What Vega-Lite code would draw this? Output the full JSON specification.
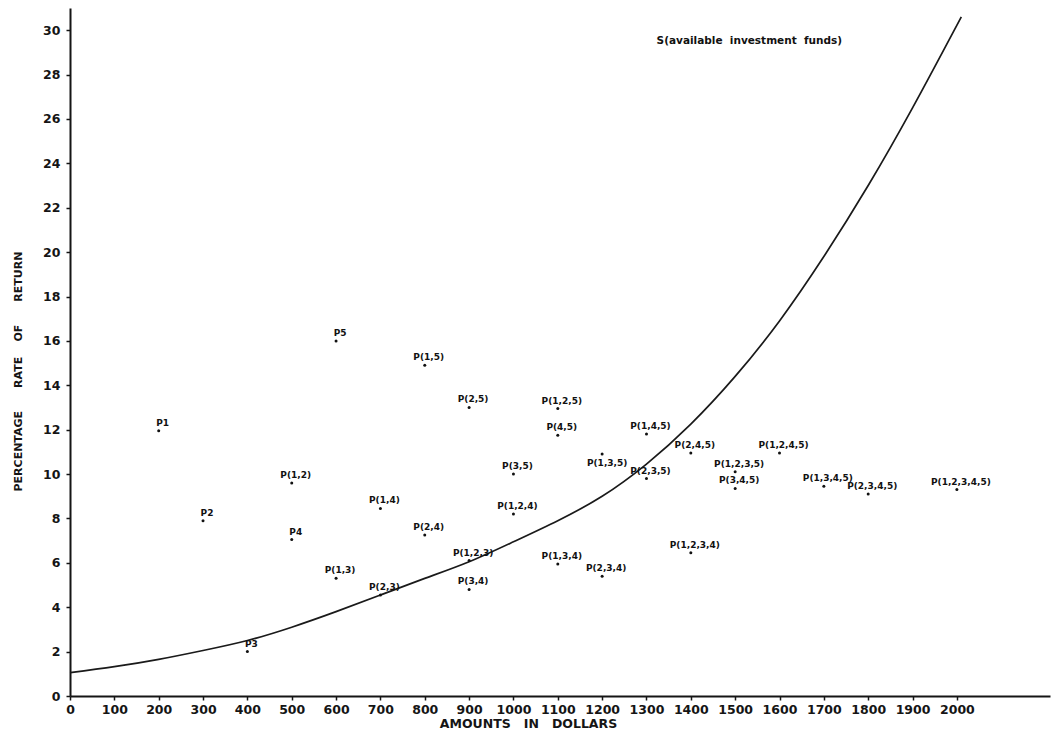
{
  "$schema": "https://vega.github.io/schema/vega-lite/v6.json",
  "width": 980,
  "height": 688,
  "autosize": "none",
  "padding": {"left": 70, "top": 8, "right": 10, "bottom": 36},
  "background": "white",
  "config": {
    "view": {"stroke": null},
    "font": "DejaVu Sans",
    "axis": {
      "labelFont": "DejaVu Sans",
      "labelFontWeight": "bold",
      "labelFontSize": 12.5,
      "labelColor": "#151515",
      "titleFont": "DejaVu Sans",
      "titleFontWeight": "bold",
      "titleColor": "#151515",
      "domainColor": "#151515",
      "domainWidth": 2,
      "tickColor": "#151515",
      "tickWidth": 1.5,
      "tickSize": 4,
      "grid": false,
      "labelFlush": false,
      "labelOverlap": false
    }
  },
  "datasets": {
    "curve": [
      {"amount": 0, "rate": 1.05},
      {"amount": 100, "rate": 1.32},
      {"amount": 200, "rate": 1.65},
      {"amount": 300, "rate": 2.05},
      {"amount": 400, "rate": 2.5},
      {"amount": 500, "rate": 3.1},
      {"amount": 600, "rate": 3.8},
      {"amount": 700, "rate": 4.55},
      {"amount": 800, "rate": 5.3},
      {"amount": 900, "rate": 6.05},
      {"amount": 1000, "rate": 6.95},
      {"amount": 1100, "rate": 7.9},
      {"amount": 1200, "rate": 9.0},
      {"amount": 1300, "rate": 10.45},
      {"amount": 1400, "rate": 12.25},
      {"amount": 1500, "rate": 14.4},
      {"amount": 1600, "rate": 16.9},
      {"amount": 1700, "rate": 19.8},
      {"amount": 1800, "rate": 23.0},
      {"amount": 1900, "rate": 26.5},
      {"amount": 2010, "rate": 30.6}
    ],
    "projects": [
      {"name": "P1", "amount": 200, "rate": 11.95},
      {"name": "P2", "amount": 300, "rate": 7.9},
      {"name": "P3", "amount": 400, "rate": 2.0},
      {"name": "P4", "amount": 500, "rate": 7.05},
      {"name": "P5", "amount": 600, "rate": 16.0},
      {"name": "P(1,2)", "amount": 500, "rate": 9.6},
      {"name": "P(1,3)", "amount": 600, "rate": 5.3},
      {"name": "P(1,4)", "amount": 700, "rate": 8.45},
      {"name": "P(1,5)", "amount": 800, "rate": 14.9},
      {"name": "P(2,3)", "amount": 700, "rate": 4.55},
      {"name": "P(2,4)", "amount": 800, "rate": 7.25},
      {"name": "P(2,5)", "amount": 900, "rate": 13.0},
      {"name": "P(3,4)", "amount": 900, "rate": 4.8},
      {"name": "P(3,5)", "amount": 1000, "rate": 10.0},
      {"name": "P(4,5)", "amount": 1100, "rate": 11.75},
      {"name": "P(1,2,3)", "amount": 900, "rate": 6.1},
      {"name": "P(1,2,4)", "amount": 1000, "rate": 8.2},
      {"name": "P(1,2,5)", "amount": 1100, "rate": 12.95},
      {"name": "P(1,3,4)", "amount": 1100, "rate": 5.95},
      {"name": "P(1,3,5)", "amount": 1200, "rate": 10.9},
      {"name": "P(1,4,5)", "amount": 1300, "rate": 11.8},
      {"name": "P(2,3,4)", "amount": 1200, "rate": 5.4},
      {"name": "P(2,3,5)", "amount": 1300, "rate": 9.8},
      {"name": "P(2,4,5)", "amount": 1400, "rate": 10.95},
      {"name": "P(3,4,5)", "amount": 1500, "rate": 9.35},
      {"name": "P(1,2,3,4)", "amount": 1400, "rate": 6.45},
      {"name": "P(1,2,3,5)", "amount": 1500, "rate": 10.1},
      {"name": "P(1,2,4,5)", "amount": 1600, "rate": 10.95},
      {"name": "P(1,3,4,5)", "amount": 1700, "rate": 9.45},
      {"name": "P(2,3,4,5)", "amount": 1800, "rate": 9.1},
      {"name": "P(1,2,3,4,5)", "amount": 2000, "rate": 9.3}
    ],
    "notes": [
      {"amount": 1532, "rate": 29.5, "text": "S(available\u00a0\u00a0investment\u00a0\u00a0funds)"}
    ]
  },
  "encoding": {
    "x": {
      "field": "amount",
      "type": "quantitative",
      "scale": {"domain": [0, 2210], "nice": false, "zero": false},
      "axis": {
        "values": [0, 100, 200, 300, 400, 500, 600, 700, 800, 900, 1000, 1100, 1200, 1300, 1400, 1500, 1600, 1700, 1800, 1900, 2000],
        "format": "d",
        "labelPadding": 3,
        "title": "AMOUNTS\u00a0\u00a0\u00a0IN\u00a0\u00a0\u00a0DOLLARS",
        "titleFontSize": 12.5,
        "titleX": 458,
        "titleY": 27,
        "titleBaseline": "middle",
        "titleAlign": "center"
      }
    },
    "y": {
      "field": "rate",
      "type": "quantitative",
      "scale": {"domain": [0, 31], "nice": false, "zero": false},
      "axis": {
        "values": [0, 2, 4, 6, 8, 10, 12, 14, 16, 18, 20, 22, 24, 26, 28, 30],
        "format": "d",
        "labelPadding": 6,
        "title": "PERCENTAGE\u00a0\u00a0\u00a0\u00a0\u00a0\u00a0RATE\u00a0\u00a0\u00a0\u00a0OF\u00a0\u00a0\u00a0\u00a0\u00a0\u00a0RETURN",
        "titleFontSize": 11,
        "titleX": -52,
        "titleY": 363,
        "titleBaseline": "middle",
        "titleAlign": "center",
        "titleAngle": -90
      }
    }
  },
  "layer": [
    {
      "data": {"name": "curve"},
      "mark": {"type": "line", "interpolate": "natural", "color": "#1a1a1a", "strokeWidth": 1.7}
    },
    {
      "data": {"name": "projects"},
      "mark": {"type": "point", "filled": true, "size": 9, "color": "#111111", "opacity": 1}
    },
    {
      "data": {"name": "projects"},
      "transform": [{"filter": "datum.name !== 'P(1,3,5)'"}],
      "mark": {"type": "text", "font": "DejaVu Sans", "fontWeight": "bold", "fontSize": 9, "color": "#111111", "align": "center", "baseline": "middle", "dx": 4, "dy": -8},
      "encoding": {"text": {"field": "name"}}
    },
    {
      "data": {"name": "projects"},
      "transform": [{"filter": "datum.name === 'P(1,3,5)'"}],
      "mark": {"type": "text", "font": "DejaVu Sans", "fontWeight": "bold", "fontSize": 9, "color": "#111111", "align": "center", "baseline": "middle", "dx": 5, "dy": 9},
      "encoding": {"text": {"field": "name"}}
    },
    {
      "data": {"name": "notes"},
      "mark": {"type": "text", "font": "DejaVu Sans", "fontWeight": "bold", "fontSize": 10.5, "color": "#111111", "align": "center", "baseline": "middle"},
      "encoding": {"text": {"field": "text"}}
    }
  ]
}
